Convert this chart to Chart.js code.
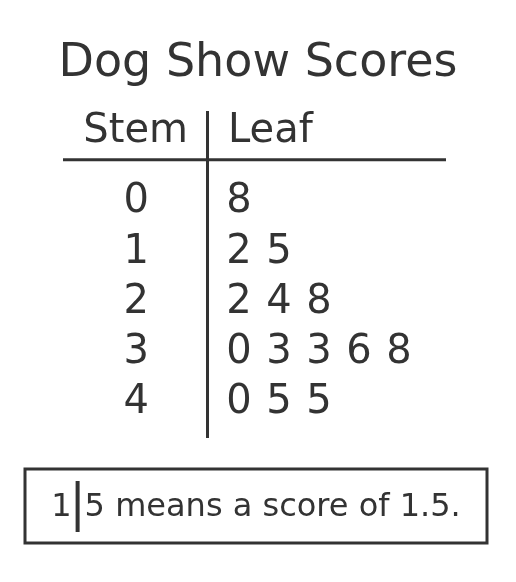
<!DOCTYPE html>
<html>
<head>
<meta charset="utf-8">
<title>Dog Show Scores</title>
<script src="https://cdn.jsdelivr.net/npm/chart.js@4/dist/chart.umd.min.js"></script>
<style>
  html, body { margin: 0; padding: 0; background: #fff; }
  #wrap { width: 516px; height: 582px; }
</style>
</head>
<body>
<div id="wrap"><canvas id="stemLeaf"></canvas></div>
<script>
// stem-and-leaf data
const stems = [0, 1, 2, 3, 4];
const leaves0 = [8];
const leaves1 = [2, 5];
const leaves2 = [2, 4, 8];
const leaves3 = [0, 3, 3, 6, 8];
const leaves4 = [0, 5, 5];
const headerLabels = ['Stem', 'Leaf'];
const keyStem = '1';
const keyLeaf = '5';
const keyText = ' means a score of 1.5.';

const ink = '#333';
const fontFamily = '"DejaVu Sans", Verdana, sans-serif';

// one point per leaf: x = position in the row, y = stem
const leafRows = [leaves0, leaves1, leaves2, leaves3, leaves4];
const points = [];
leafRows.forEach(function(row, r) {
  row.forEach(function(leaf, i) {
    points.push({ x: i, y: stems[r], leaf: leaf });
  });
});

// draws header, divider line, leaf digits and the key
const stemLeafPlugin = {
  id: 'stemLeaf',
  afterDatasetsDraw(chart) {
    const ctx = chart.ctx;
    const x = chart.scales.x;
    const y = chart.scales.y;
    const area = chart.chartArea;
    const axisX = y.right;

    ctx.save();
    ctx.fillStyle = ink;
    ctx.strokeStyle = ink;

    // leaf digits
    ctx.font = '40px ' + fontFamily;
    ctx.textAlign = 'center';
    ctx.textBaseline = 'middle';
    chart.getDatasetMeta(0).data.forEach(function(pt, i) {
      ctx.fillText(String(points[i].leaf), pt.x, pt.y);
    });

    // header
    const headY = y.getPixelForValue(-1.4);
    ctx.textAlign = 'right';
    ctx.fillText(headerLabels[0], axisX - 19, headY);
    ctx.textAlign = 'left';
    ctx.fillText(headerLabels[1], axisX + 21, headY);

    // horizontal rule under the header
    const ruleY = y.getPixelForValue(-0.84);
    ctx.lineWidth = 3;
    ctx.beginPath();
    ctx.moveTo(x.getPixelForValue(-4.4), ruleY);
    ctx.lineTo(x.getPixelForValue(5.175), ruleY);
    ctx.stroke();

    // key box
    const boxL = 25, boxR = chart.width - 29;
    const boxT = area.bottom + 32, boxB = area.bottom + 106;
    ctx.lineWidth = 3;
    ctx.strokeRect(boxL, boxT, boxR - boxL, boxB - boxT);

    ctx.font = '32px ' + fontFamily;
    ctx.textBaseline = 'middle';
    const w1 = ctx.measureText(keyStem).width;
    const w2 = ctx.measureText(keyLeaf + keyText).width;
    const total = w1 + 13 + w2;
    const tx = (boxL + boxR) / 2 - total / 2;
    const ty = (boxT + boxB) / 2 + 2;
    ctx.textAlign = 'left';
    ctx.fillText(keyStem, tx, ty);
    ctx.lineWidth = 4;
    ctx.beginPath();
    ctx.moveTo(tx + w1 + 6, ty - 27);
    ctx.lineTo(tx + w1 + 6, ty + 24);
    ctx.stroke();
    ctx.fillText(keyLeaf + keyText, tx + w1 + 13, ty);
    ctx.restore();
  }
};

new Chart(document.getElementById('stemLeaf').getContext('2d'), {
  type: 'scatter',
  data: {
    datasets: [
      {
        label: 'Leaves',
        data: points,
        pointRadius: 0,
        pointHoverRadius: 0
      }
    ]
  },
  options: {
    responsive: true,
    maintainAspectRatio: false,
    animation: false,
    events: [],
    layout: {
      padding: { left: 0, right: 0, top: 0, bottom: 145 }
    },
    plugins: {
      legend: { display: false },
      tooltip: { enabled: false },
      title: {
        display: true,
        text: 'Dog Show Scores',
        color: ink,
        font: { family: fontFamily, size: 46, weight: 'normal' },
        padding: { top: 36, bottom: 20.8 }
      }
    },
    scales: {
      x: {
        type: 'linear',
        display: false,
        min: -0.8,
        max: 6.925
      },
      y: {
        type: 'linear',
        reverse: true,
        min: -1.79,
        max: 4.68,
        afterFit: function(scale) { scale.width = 207; },
        afterBuildTicks: function(scale) {
          scale.ticks = stems.map(function(s) { return { value: s }; });
        },
        grid: { display: false, drawTicks: false },
        border: { display: true, color: ink, width: 3 },
        ticks: {
          color: ink,
          padding: 58,
          font: { family: fontFamily, size: 40 },
          callback: function(v) { return String(v); }
        }
      }
    }
  },
  plugins: [stemLeafPlugin]
});
</script>
</body>
</html>
